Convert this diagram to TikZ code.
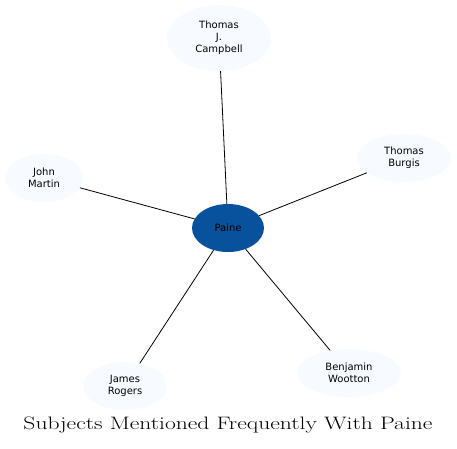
\documentclass[tikz,border=0pt]{standalone}
\usepackage{fontspec}
\usetikzlibrary{shapes.geometric}
\newfontfamily\nodefont{DejaVu Sans}
\definecolor{leaf}{HTML}{F7FBFF}
\definecolor{hub}{HTML}{08519C}
\begin{document}
\begin{tikzpicture}[x=1pt,y=-1pt,
  leafnode/.style={ellipse, fill=leaf, draw=none, inner sep=0pt, align=center,
    font=\nodefont\fontsize{10}{12}\selectfont},
  hubnode/.style={ellipse, fill=hub, draw=none, inner sep=0pt, align=center,
    font=\nodefont\fontsize{10}{12}\selectfont, text=black},
  edge/.style={draw=black, line width=0.8pt}]
\useasboundingbox (0,0) rectangle (457,448);
\node[hubnode, minimum width=72pt, minimum height=48pt] (paine) at (228,228) {Paine};
\node[leafnode, minimum width=104pt, minimum height=66pt] (campbell) at (219,38) {Thomas\\J.\\Campbell};
\node[leafnode, minimum width=78pt, minimum height=48pt] (martin) at (44,178) {John\\Martin};
\node[leafnode, minimum width=94pt, minimum height=48pt] (burgis) at (404,158) {Thomas\\Burgis};
\node[leafnode, minimum width=84pt, minimum height=48pt] (rogers) at (125,386) {James\\Rogers};
\node[leafnode, minimum width=104pt, minimum height=48pt] (wootton) at (349,373) {Benjamin\\Wootton};
\draw[edge] (paine) -- (campbell);
\draw[edge] (paine) -- (martin);
\draw[edge] (paine) -- (burgis);
\draw[edge] (paine) -- (rogers);
\draw[edge] (paine) -- (wootton);
\node[inner sep=0pt] (title) at (228,425.5) {\resizebox{409pt}{\height}{\fontsize{18}{20}\selectfont Subjects Mentioned Frequently With Paine}};
\end{tikzpicture}
\end{document}
